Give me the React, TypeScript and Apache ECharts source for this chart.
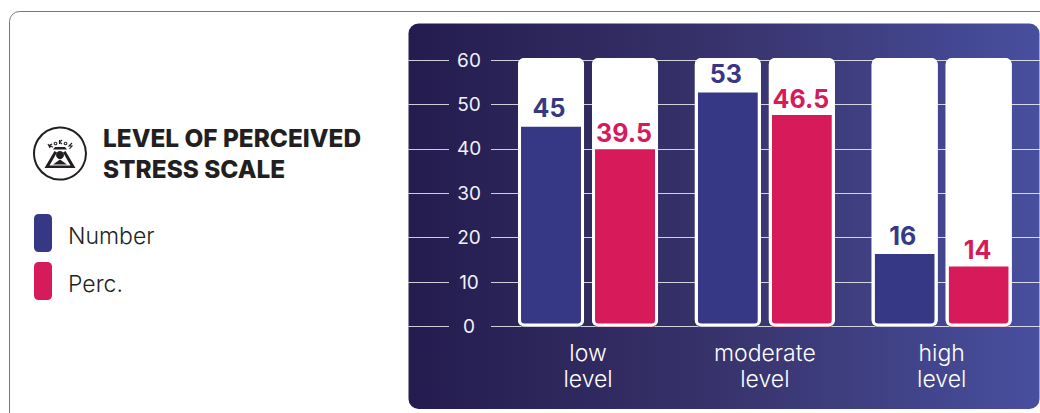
import React, { useEffect, useRef } from "react";
import * as echarts from "echarts";

const categories = ["low\nlevel", "moderate\nlevel", "high\nlevel"];
// Printed labels, exactly as the picture shows them.
const numberLabels = ["45", "53", "16"];
const percLabels = ["39.5", "46.5", "14"];
// Bar heights as measured on the picture's axis; they differ slightly from the printed labels in the reference.
const numberHeights = [45, 52.7, 16.3];
const percHeights = [39.9, 47.6, 13.5];
const trackValues = [60, 60, 60];
const seriesNames = ["Number", "Perc."];
const titleText = "LEVEL OF PERCEIVED\nSTRESS SCALE";

const NAVY = "#363886";
const CRIMSON = "#d61a5a";
const INK = "#231f20";
const FONT = "Inter, sans-serif";
const GRID_LINE = "rgba(255,255,255,0.78)";
const TOP = 60;
const HEIGHT = 266.5;

const splitLine = { show: true, lineStyle: { color: GRID_LINE, width: 1 } };
const valueAxisBase = { type: "value", min: 0, max: 60, interval: 10, axisLine: { show: false }, axisTick: { show: false } };

const trackData: number[][] = [];
trackValues.forEach((v, i) => {
  trackData.push([i, v, -1]);
  trackData.push([i, v, 1]);
});

function trackRender(mode: "fill" | "outline") {
  return (_p: any, api: any) => {
    const top = api.coord([api.value(0), api.value(1)]);
    const base = api.coord([api.value(0), 0]);
    const cx = top[0] + api.value(2) * 37;
    if (mode === "fill") {
      return {
        type: "rect",
        shape: { x: cx - 33, y: top[1] - 2, width: 66, height: base[1] - top[1] + 2, r: 6 },
        style: { fill: "#ffffff" },
      };
    }
    return {
      type: "rect",
      shape: { x: cx - 31.5, y: top[1] - 0.5, width: 63, height: base[1] - top[1] - 1, r: 5 },
      style: { fill: "none", stroke: "#ffffff", lineWidth: 3 },
    };
  };
}

const barLabel = (color: string, texts: string[], dx: number, distance: number) => ({
  show: true,
  position: "top",
  distance,
  offset: [dx, 0],
  color,
  fontFamily: FONT,
  fontSize: 25,
  fontWeight: 700,
  formatter: (p: any) => texts[p.dataIndex],
});

function iconElements() {
  const fill = { fill: INK };
  const stroke = { stroke: INK, fill: "none", lineWidth: 1.1 };
  return [
    { type: "circle", shape: { cx: 60, cy: 153.5, r: 26 }, style: { fill: "#fff", stroke: INK, lineWidth: 2 } },
    { type: "polyline", shape: { points: [[48, 144], [50, 148], [49, 145.5], [52, 144], [49.5, 146], [53, 147]] }, style: stroke },
    { type: "circle", shape: { cx: 55.5, cy: 143.5, r: 1.3 }, style: stroke },
    { type: "polyline", shape: { points: [[59.5, 140], [59.5, 144], [59.5, 142], [62, 140], [59.5, 142], [62, 144]] }, style: stroke },
    { type: "circle", shape: { cx: 65.5, cy: 143.5, r: 1.3 }, style: stroke },
    { type: "polyline", shape: { points: [[72, 143], [69, 146], [72, 146], [69.5, 149]] }, style: stroke },
    { type: "polygon", shape: { points: [[53, 149.5], [67, 149.5], [65, 147], [55, 147]] }, style: fill },
    { type: "polygon", shape: { points: [[44.5, 168], [54.5, 151], [57, 152.5], [49.5, 165.5], [70.5, 165.5], [63, 152.5], [65.5, 151], [75.5, 168]] }, style: fill },
    { type: "circle", shape: { cx: 60, cy: 155, r: 4 }, style: fill },
    { type: "polygon", shape: { points: [[53, 164.5], [60, 159.5], [67, 164.5]] }, style: fill },
  ].map((e) => ({ ...e, z: 2 }));
}

export default function App() {
  const ref = useRef<HTMLDivElement>(null);

  useEffect(() => {
    document.body.style.margin = "0";
    document.body.style.overflow = "hidden";
    const chart = echarts.init(ref.current!, undefined, { renderer: "svg" });
    chart.setOption({
      animation: false,
      backgroundColor: "#ffffff",
      tooltip: { show: false },
      legend: {
        show: true,
        orient: "vertical",
        left: 34,
        top: 214,
        padding: 0,
        data: seriesNames,
        icon: "roundRect",
        itemWidth: 18,
        itemHeight: 38,
        itemGap: 10,
        selectedMode: false,
        formatter: "{t|{name}}",
        textStyle: {
          rich: {
            t: { color: INK, fontFamily: FONT, fontSize: 23, fontWeight: 300, padding: [6, 0, 0, 11] },
          },
        },
      },
      graphic: [
        {
          type: "rect",
          z: -20,
          shape: { x: 9.5, y: 11.5, width: 1300, height: 900, r: 10 },
          style: { fill: "#ffffff", stroke: "#777777", lineWidth: 1 },
        },
        {
          type: "rect",
          z: -10,
          shape: { x: 408.5, y: 23.5, width: 631, height: 385.5, r: 10 },
          style: {
            fill: new echarts.graphic.LinearGradient(0, 0, 1, 0, [
              { offset: 0, color: "#241c4e" },
              { offset: 0.5, color: "#38336c" },
              { offset: 1, color: "#484f9e" },
            ]),
          },
        },
        {
          type: "text",
          z: 2,
          x: 103,
          y: 122,
          style: { text: titleText, fill: INK, font: `800 24.4px ${FONT}`, lineHeight: 31.5 },
        },
        ...iconElements(),
      ],
      grid: [
        { left: 408.5, width: 40.5, top: TOP, height: HEIGHT },
        { left: 491, width: 549, top: TOP, height: HEIGHT },
        { left: 499.6, width: 530.5, top: TOP, height: HEIGHT },
      ],
      xAxis: [
        { type: "category", gridIndex: 0, show: false, data: categories },
        { type: "category", gridIndex: 1, show: false, data: categories },
        {
          type: "category",
          gridIndex: 2,
          data: categories,
          axisLine: { show: false },
          axisTick: { show: false },
          axisLabel: { color: "#ffffff", fontFamily: FONT, fontSize: 23, fontWeight: 300, lineHeight: 26, margin: 13 },
        },
      ],
      yAxis: [
        {
          ...valueAxisBase,
          gridIndex: 0,
          position: "right",
          splitLine,
          axisLabel: { color: "#f1f1f6", fontFamily: FONT, fontSize: 19, align: "center", margin: 20 },
        },
        { ...valueAxisBase, gridIndex: 1, splitLine, axisLabel: { show: false } },
        { ...valueAxisBase, gridIndex: 2, splitLine: { show: false }, axisLabel: { show: false } },
      ],
      series: [
        {
          type: "custom",
          xAxisIndex: 2,
          yAxisIndex: 2,
          z: 3,
          silent: true,
          renderItem: trackRender("fill"),
          encode: { x: 0, y: 1 },
          data: trackData,
        },
        {
          name: seriesNames[0],
          type: "bar",
          xAxisIndex: 2,
          yAxisIndex: 2,
          z: 4,
          barWidth: 60,
          barGap: "23.33%",
          itemStyle: { color: NAVY },
          label: barLabel(NAVY, numberLabels, -2, 6),
          data: numberHeights,
        },
        {
          name: seriesNames[1],
          type: "bar",
          xAxisIndex: 2,
          yAxisIndex: 2,
          z: 4,
          barWidth: 60,
          barGap: "23.33%",
          itemStyle: { color: CRIMSON },
          label: barLabel(CRIMSON, percLabels, -1, 4),
          data: percHeights,
        },
        {
          type: "custom",
          xAxisIndex: 2,
          yAxisIndex: 2,
          z: 5,
          silent: true,
          renderItem: trackRender("outline"),
          encode: { x: 0, y: 1 },
          data: trackData,
        },
      ],
    });
    return () => chart.dispose();
  }, []);

  return <div ref={ref} style={{ width: 1040, height: 413, overflow: "hidden" }} />;
}
